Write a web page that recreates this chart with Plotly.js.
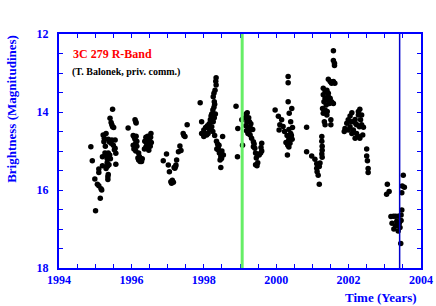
<!DOCTYPE html>
<html>
<head>
<meta charset="utf-8">
<script src="https://cdn.plot.ly/plotly-3.0.1.min.js"></script>
<style>html,body{margin:0;padding:0;background:#fff;}#chart{width:436px;height:306px;}</style>
</head>
<body>
<div id="chart"></div>
<script>
// Observation epochs (years) and R-band magnitudes, per observing season
const t1995 = [1994.88,1994.92,1994.99,1995.01,1995.06,1995.10,1995.16,1995.14,1995.10,1995.10,1995.18,1995.20,1995.20,1995.22,1995.25,1995.24,1995.30,1995.28,1995.32,1995.33,1995.33,1995.34,1995.35,1995.35,1995.36,1995.36,1995.39,1995.44,1995.46,1995.50,1995.53,1995.41,1995.44,1995.46,1995.48,1995.51,1995.48,1995.36,1995.40,1995.38,1995.42,1995.55,1995.55,1995.57,1995.57,1995.30,1995.27];
const m1995 = [14.89,15.25,15.72,16.53,15.85,15.89,15.97,16.21,15.46,15.55,16.00,15.15,15.38,14.59,14.67,14.76,14.55,14.88,15.12,15.20,15.30,15.39,15.66,15.73,15.60,14.70,14.76,14.80,14.72,14.85,14.97,14.16,14.27,14.33,14.38,14.40,13.93,15.05,15.10,15.35,15.20,14.72,14.93,15.06,15.34,15.45,15.05];
const t1996 = [1995.91,1996.10,1996.12,1996.13,1996.05,1996.08,1996.10,1996.13,1996.15,1996.12,1996.05,1996.10,1996.15,1996.07,1996.12,1996.20,1996.22,1996.26,1996.20,1996.28,1996.24,1996.30,1996.18,1996.37,1996.40,1996.42,1996.45,1996.47,1996.50,1996.40,1996.36,1996.52,1996.48,1996.54,1996.55,1996.53,1996.44];
const m1996 = [14.41,14.20,14.25,14.28,14.60,14.65,14.70,14.62,14.75,14.80,14.85,14.90,14.88,14.95,15.00,15.05,15.14,15.21,15.23,15.27,15.27,15.20,15.18,14.75,14.65,14.80,14.62,14.85,14.72,14.90,14.95,14.88,14.98,14.55,14.78,14.65,14.70];
const t1997 = [1996.88,1996.97,1997.02,1997.05,1997.09,1997.11,1997.16,1997.13,1997.18,1997.23,1997.20,1997.25,1997.30,1997.34,1997.37,1997.43,1997.48,1997.45,1997.54,1997.22];
const m1997 = [15.25,15.08,15.36,15.53,15.79,15.83,15.80,15.75,15.42,15.36,15.44,15.23,15.02,14.87,14.99,14.55,14.63,14.60,14.33,15.40];
const t1998 = [1997.90,1997.94,1998.00,1998.04,1997.94,1998.08,1998.12,1998.00,1998.05,1998.10,1998.15,1998.18,1998.20,1998.22,1998.25,1998.28,1998.30,1998.16,1998.22,1998.26,1998.29,1998.32,1998.29,1998.26,1998.28,1998.31,1998.34,1998.33,1998.34,1998.25,1998.30,1998.35,1998.38,1998.40,1998.36,1998.42,1998.40,1998.45,1998.47,1998.49,1998.45,1998.47,1998.54,1998.52,1998.50,1998.43];
const m1998 = [13.76,14.25,14.46,14.55,14.55,14.59,14.55,14.63,14.40,14.35,14.30,14.20,14.10,14.05,13.95,13.88,13.80,14.45,14.38,14.25,14.15,14.05,13.74,13.61,13.52,13.44,13.31,13.21,13.12,14.50,14.60,14.75,14.82,14.90,14.95,14.85,14.97,15.06,15.15,15.19,15.23,15.42,15.10,14.63,15.00,15.05];
const t1999 = [1998.89,1998.94,1998.93,1999.05,1999.07,1999.14,1999.17,1999.20,1999.19,1999.16,1999.24,1999.26,1999.22,1999.28,1999.25,1999.30,1999.22,1999.28,1999.32,1999.37,1999.39,1999.37,1999.41,1999.43,1999.48,1999.45,1999.49,1999.43,1999.47,1999.53,1999.57,1999.60,1999.58,1999.60,1999.35,1999.18];
const m1999 = [13.85,14.42,15.15,14.20,14.85,14.15,14.05,14.02,14.25,14.35,14.15,14.25,14.40,14.40,14.50,14.30,14.55,14.59,14.67,14.76,14.82,14.89,14.93,15.05,15.10,15.18,15.30,15.35,15.38,15.10,15.05,15.00,14.91,14.80,14.45,14.48];
const t2000 = [1999.97,2000.06,2000.15,2000.10,2000.19,2000.08,2000.23,2000.33,2000.33,2000.33,2000.43,2000.36,2000.40,2000.45,2000.35,2000.40,2000.30,2000.35,2000.27,2000.32,2000.38,2000.35,2000.31,2000.42,2000.44];
const m2000 = [13.95,14.11,14.20,14.33,14.37,14.46,14.50,13.09,13.25,13.74,13.91,14.03,14.25,14.40,14.45,14.55,14.60,14.70,14.78,14.85,14.80,14.90,15.10,14.60,14.70];
const t2001 = [2000.84,2000.84,2000.98,2001.07,2001.12,2001.12,2001.13,2001.16,2001.19,2001.21,2001.19,2001.26,2001.26,2001.27,2001.27,2001.26,2001.27,2001.58,2001.58,2001.61,2001.61,2001.44,2001.49,2001.53,2001.62,2001.58,2001.30,2001.35,2001.40,2001.44,2001.30,2001.35,2001.40,2001.44,2001.49,2001.32,2001.38,2001.47,2001.53,2001.28,2001.35,2001.41,2001.30,2001.40,2001.58,2001.33,2001.35,2001.51,2001.51];
const m2001 = [14.39,15.02,15.13,15.21,15.33,15.44,15.53,15.62,15.40,15.31,15.85,14.63,14.75,14.88,14.98,15.08,15.16,12.43,12.68,12.75,12.81,13.16,13.22,13.26,13.26,13.22,13.39,13.48,13.44,13.52,13.56,13.65,13.69,13.61,13.65,13.74,13.82,13.78,13.74,13.91,13.95,13.99,14.03,14.08,13.78,14.25,14.33,14.20,14.33];
const t2002 = [2001.88,2001.90,2001.95,2001.99,2002.04,2002.09,2002.13,2002.18,2002.22,2002.27,2002.31,2002.27,2002.33,2002.36,2002.30,2002.22,2002.27,2002.31,2002.18,2002.13,2002.04,2001.99,2002.09,2002.41,2002.36,2002.39,2002.20,2002.07,2002.50,2002.50,2002.52,2002.54,2002.54];
const m2002 = [14.50,14.42,14.29,14.20,14.10,14.02,14.25,14.19,14.33,13.99,13.93,14.08,14.20,14.33,14.38,14.55,14.63,14.67,14.67,14.46,14.38,14.46,14.55,14.39,14.08,14.59,14.30,14.25,14.95,15.13,15.25,15.45,15.55];
const t2003 = [2003.07,2003.12,2003.05,2003.17,2003.24,2003.30,2003.37,2003.45,2003.47,2003.20,2003.30,2003.35,2003.33,2003.40,2003.45,2003.25,2003.37,2003.42,2003.44,2003.51,2003.48,2003.54,2003.47];
const m2003 = [15.85,16.04,16.11,16.68,16.67,16.67,16.67,16.64,16.51,16.85,16.92,16.85,16.80,16.85,16.78,17.00,17.05,16.96,17.37,15.62,15.90,15.93,16.07];

// Marker lines (years)
const greenLineYear = [1999.06];
const blueLineYear = [2003.41];

// Tick labels (labelled every 2 units, ticks every 0.5)
const xTickVals = [1994,1994.5,1995,1995.5,1996,1996.5,1997,1997.5,1998,1998.5,1999,1999.5,2000,2000.5,2001,2001.5,2002,2002.5,2003,2003.5,2004];
const xTickText = ['1994','','','','1996','','','','1998','','','','2000','','','','2002','','','','2004'];
const yTickVals = [12,12.5,13,13.5,14,14.5,15,15.5,16,16.5,17,17.5,18];
const yTickText = ['12','','','','14','','','','16','','','','18'];

const years = [].concat(t1995, t1996, t1997, t1998, t1999, t2000, t2001, t2002, t2003);
const mags = [].concat(m1995, m1996, m1997, m1998, m1999, m2000, m2001, m2002, m2003);

const serif = 'Liberation Serif, Times New Roman, serif';
const blue = '#0000ff';

const trace = {
  x: years, y: mags, type: 'scatter', mode: 'markers',
  marker: {color: '#000000', size: 5.5},
  hoverinfo: 'skip', showlegend: false
};

const axisCommon = {
  showgrid: false, zeroline: false,
  showline: true, linecolor: blue, linewidth: 2, mirror: 'ticks',
  ticks: 'inside', ticklen: 4, tickwidth: 1, tickcolor: blue,
  tickfont: {family: serif, size: 12, color: blue, weight: 'bold'}
};

const layout = {
  width: 436, height: 306,
  margin: {l: 59, r: 15, t: 34, b: 38, pad: 0},
  paper_bgcolor: '#ffffff', plot_bgcolor: '#ffffff',
  xaxis: Object.assign({}, axisCommon, {
    range: [1994, 2004], tickmode: 'array', tickvals: xTickVals, ticktext: xTickText
  }),
  yaxis: Object.assign({}, axisCommon, {
    range: [18, 12], tickmode: 'array', tickvals: yTickVals, ticktext: yTickText,
    ticklabelstandoff: 6
  }),
  shapes: [
    {type: 'line', xref: 'x', yref: 'paper', x0: greenLineYear[0], x1: greenLineYear[0], y0: 0, y1: 1,
     line: {color: '#66ee66', width: 3}, layer: 'above'},
    {type: 'line', xref: 'x', yref: 'paper', x0: blueLineYear[0], x1: blueLineYear[0], y0: 0, y1: 1,
     line: {color: '#0000cc', width: 1.5}, layer: 'above'}
  ],
  annotations: [
    {text: '3C 279 R-Band', xref: 'paper', yref: 'paper', x: 0.034, y: 0.915, xanchor: 'left', yanchor: 'middle',
     showarrow: false, font: {family: serif, size: 12, color: '#ff0000', weight: 'bold'}},
    {text: '(T. Balonek, priv. comm.)', xref: 'paper', yref: 'paper', x: 0.03, y: 0.838, xanchor: 'left', yanchor: 'middle',
     showarrow: false, font: {family: serif, size: 10, color: '#000000', weight: 'bold'}},
    {text: 'Brightness (Magnitudines)', xref: 'paper', yref: 'paper', x: -0.13, y: 0.68, xanchor: 'center', yanchor: 'middle',
     textangle: -90, showarrow: false, font: {family: serif, size: 13, color: blue, weight: 'bold'}},
    {text: 'Time (Years)', xref: 'paper', yref: 'paper', x: 0.889, y: -0.128, xanchor: 'center', yanchor: 'middle',
     showarrow: false, font: {family: serif, size: 13, color: blue, weight: 'bold'}}
  ]
};

Plotly.newPlot('chart', [trace], layout, {staticPlot: true, displayModeBar: false});
</script>
</body>
</html>
